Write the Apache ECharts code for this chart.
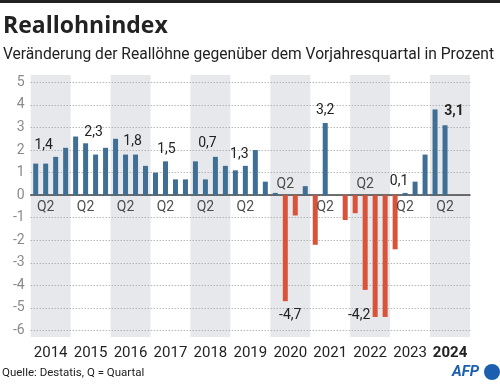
<!DOCTYPE html>
<html>
<head>
<meta charset="utf-8">
<script src="https://cdn.jsdelivr.net/npm/echarts@6/dist/echarts.min.js"></script>
<style>
html,body{margin:0;padding:0;background:#fff;}
#chart{width:500px;height:389px;}
</style>
</head>
<body>
<div id="chart"></div>
<script>
// ---- data ----
const years = ['2014','2015','2016','2017','2018','2019','2020','2021','2022','2023','2024'];
const quarterNames = ['Q1','Q2','Q3','Q4'];
const wageChange = [
  1.4, 1.4, 1.7, 2.1,
  2.6, 2.3, 1.8, 2.1,
  2.5, 1.8, 1.8, 1.3,
  1.0, 1.5, 0.7, 0.7,
  1.5, 0.7, 1.7, 1.3,
  1.1, 1.3, 2.0, 0.6,
  0.1, -4.7, -0.9, 0.4,
  -2.2, 3.2, 0.0, -1.1,
  -0.8, -4.2, -5.4, -5.4,
  -2.4, 0.1, 0.6, 1.8,
  3.8, 3.1, null, null
];
const shadedYears = ['2014','2016','2018','2020','2022','2024'];
const yTicks = {min: -6, max: 5, interval: 1};
// label offsets for the annotated Q2 values (style only)
const labelOffsets = {
  '2014': [-2, -6], '2015': [8, 1], '2016': [7, -1], '2017': [1, 0],
  '2018': [2, -24], '2019': [-6, 1], '2020': [5, 2], '2021': [0, 0],
  '2022': [-6, 14], '2023': [-6, 1], '2024': [9, -2]
};

// ---- build ----
const categories = [];
years.forEach(y => quarterNames.forEach(q => categories.push(y + ' ' + q)));

const BLUE = '#3f6f95';
const RED = '#d9533a';
const FONT = 'Roboto';

const barData = wageChange.map((v, i) => {
  const year = years[Math.floor(i / 4)];
  const q = quarterNames[i % 4];
  const item = {
    value: v,
    itemStyle: {color: v != null && v < 0 ? RED : BLUE}
  };
  if (q === 'Q2' && v != null) {
    item.label = {
      show: true,
      position: v < 0 ? 'bottom' : 'top',
      distance: 5,
      offset: labelOffsets[year],
      formatter: String(v).replace('.', ','),
      fontFamily: FONT,
      fontSize: 14,
      color: '#222',
      fontWeight: year === '2024' ? 'bold' : 'normal'
    };
  }
  return item;
});

const q2Data = [];
wageChange.forEach((v, i) => {
  if (quarterNames[i % 4] === 'Q2') {
    const neg = v != null && v < 0;
    q2Data.push({
      value: [i, 0],
      label: {position: neg ? 'top' : 'bottom', distance: neg ? 3 : 5}
    });
  }
});

const bandData = years.map(y => shadedYears.includes(y) ? 1 : null);

const chart = echarts.init(document.getElementById('chart'), null, {renderer: 'canvas'});
chart.setOption({
  animation: false,
  backgroundColor: '#fff',
  textStyle: {fontFamily: FONT},
  title: [
    {text: 'Reallohnindex', left: 3, top: 15, padding: 0,
     textStyle: {fontFamily: 'Open Sans', fontSize: 23, fontWeight: 'bold', color: '#222'}},
    {text: 'Veränderung der Reallöhne gegenüber dem Vorjahresquartal in Prozent', left: 3, top: 47, padding: 0,
     textStyle: {fontFamily: FONT, fontSize: 15.6, fontWeight: 'normal', color: '#222'}}
  ],
  grid: [
    {left: 30.7, right: 30, top: 75, bottom: 52},
    {left: 30.7, right: 30, top: 82.4, bottom: 389 - 330.5}
  ],
  xAxis: [
    {gridIndex: 0, type: 'category', data: years, boundaryGap: true,
     axisLine: {show: false}, axisTick: {show: false}, splitLine: {show: false},
     axisLabel: {
       interval: 0, margin: 9, fontSize: 15, color: '#222', fontFamily: FONT,
       formatter: v => v === '2024' ? '{b|' + v + '}' : v,
       rich: {b: {fontWeight: 'bold', fontSize: 15, color: '#222', fontFamily: FONT}}
     }},
    {gridIndex: 1, type: 'category', data: categories, boundaryGap: true,
     axisLine: {onZero: true, lineStyle: {color: '#444', width: 1.5}},
     axisTick: {show: false}, axisLabel: {show: false}, splitLine: {show: false}}
  ],
  yAxis: [
    {gridIndex: 0, type: 'value', min: 0, max: 1, show: false},
    {gridIndex: 1, type: 'value', min: yTicks.min, max: yTicks.max, interval: yTicks.interval,
     axisLine: {show: false}, axisTick: {show: false},
     axisLabel: {color: '#8a8a8a', fontSize: 14, margin: 6, fontFamily: FONT},
     splitLine: {lineStyle: {color: '#9a9a9a', type: [1, 2], width: 1}}}
  ],
  series: [
    {type: 'bar', xAxisIndex: 0, yAxisIndex: 0, data: bandData, barCategoryGap: 0,
     itemStyle: {color: '#e6e8eb'}, z: -1, silent: true},
    {type: 'bar', xAxisIndex: 1, yAxisIndex: 1, data: barData, barWidth: 5, z: 3},
    {type: 'scatter', xAxisIndex: 1, yAxisIndex: 1, data: q2Data, symbolSize: 1,
     itemStyle: {color: 'rgba(0,0,0,0)'}, z: 4, silent: true,
     label: {show: true, formatter: 'Q2', fontSize: 14, color: '#222', fontFamily: FONT}}
  ],
  graphic: [
    {type: 'rect', left: 0, top: 0, shape: {width: 500, height: 3}, style: {fill: '#222'}},
    {type: 'text', left: 2, top: 367, style: {text: 'Quelle: Destatis, Q = Quartal', fontSize: 11.5, fill: '#222', fontFamily: FONT}},
    {type: 'text', left: 452, top: 365, style: {text: 'AFP', fontSize: 15, fontWeight: 'bold', fontStyle: 'italic', fill: '#1b5fae', fontFamily: FONT}},
    {type: 'circle', shape: {cx: 492, cy: 372, r: 8}, style: {fill: '#1b5fae'}}
  ]
});
</script>
</body>
</html>
